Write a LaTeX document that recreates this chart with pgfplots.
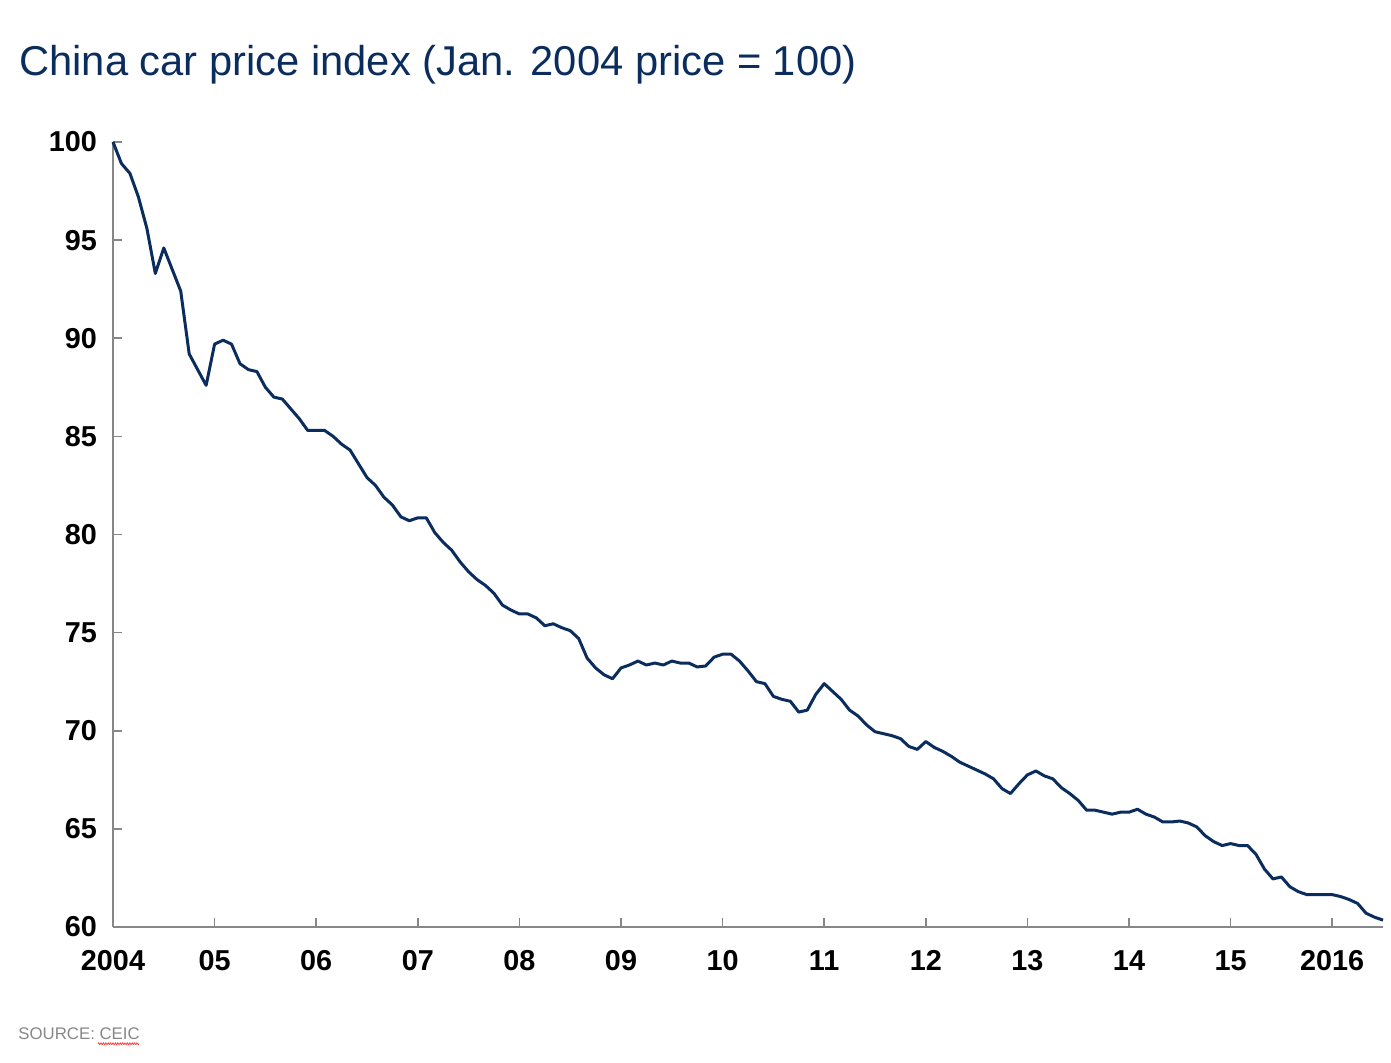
\documentclass[border=0pt]{standalone}
\usepackage{pgfplots}
\pgfplotsset{compat=1.18}
\usepackage{pgfplotstable}
\usepackage{fontspec}
\setmainfont{Liberation Sans}
\usetikzlibrary{decorations.pathmorphing}
\definecolor{navy}{HTML}{0B2D5E}
\definecolor{axgray}{HTML}{878787}
\pgfplotstableread{
m v
0 100
1 98.9
2 98.4
3 97.2
4 95.6
5 93.3
6 94.6
7 93.5
8 92.4
9 89.2
10 88.4
11 87.6
12 89.7
13 89.9
14 89.7
15 88.7
16 88.4
17 88.3
18 87.5
19 87.0
20 86.9
21 86.4
22 85.9
23 85.3
24 85.3
25 85.3
26 85.0
27 84.6
28 84.3
29 83.6
30 82.9
31 82.5
32 81.9
33 81.5
34 80.9
35 80.7
36 80.85
37 80.85
38 80.1
39 79.6
40 79.2
41 78.6
42 78.1
43 77.7
44 77.4
45 77.0
46 76.4
47 76.15
48 75.95
49 75.95
50 75.75
51 75.35
52 75.45
53 75.25
54 75.1
55 74.7
56 73.7
57 73.2
58 72.85
59 72.65
60 73.2
61 73.35
62 73.55
63 73.35
64 73.45
65 73.35
66 73.55
67 73.45
68 73.45
69 73.25
70 73.3
71 73.75
72 73.9
73 73.9
74 73.55
75 73.05
76 72.5
77 72.4
78 71.75
79 71.6
80 71.5
81 70.95
82 71.05
83 71.85
84 72.4
85 72.0
86 71.6
87 71.05
88 70.75
89 70.3
90 69.95
91 69.85
92 69.75
93 69.6
94 69.2
95 69.05
96 69.45
97 69.15
98 68.95
99 68.7
100 68.4
101 68.2
102 68.0
103 67.8
104 67.55
105 67.05
106 66.8
107 67.3
108 67.75
109 67.95
110 67.7
111 67.55
112 67.1
113 66.8
114 66.45
115 65.95
116 65.95
117 65.85
118 65.75
119 65.85
120 65.85
121 66.0
122 65.75
123 65.6
124 65.35
125 65.35
126 65.4
127 65.3
128 65.1
129 64.65
130 64.35
131 64.15
132 64.25
133 64.15
134 64.15
135 63.7
136 62.95
137 62.45
138 62.55
139 62.05
140 61.8
141 61.65
142 61.65
143 61.65
144 61.65
145 61.55
146 61.4
147 61.2
148 60.7
149 60.5
150 60.35
}\cpi
\begin{document}
\begin{tikzpicture}
\useasboundingbox (0,0) rectangle (695.5pt,531.5pt);
\node[anchor=base west, text=navy, font=\fontsize{20.85}{25}\selectfont, inner sep=0pt] at (9.5pt,493.5pt) {China car price index (Jan. 2004 price = 100)};
\node[anchor=base west, text=axgray, font=\fontsize{8.4}{10}\selectfont, inner sep=0pt] (src) at (9pt,11.5pt) {SOURCE: CEIC};
\draw[red!80, line width=0.35pt, decorate, decoration={zigzag, segment length=1.2pt, amplitude=0.5pt}] (49pt,9.6pt) -- (69.5pt,9.6pt);
\begin{axis}[
  at={(56.5pt,68pt)}, anchor=south west,
  scale only axis, width=635pt, height=392.5pt,
  xmin=0, xmax=150, ymin=60, ymax=100,
  axis x line=bottom, axis y line=left,
  axis line style={-, axgray, line width=0.7pt},
  tick style={axgray, line width=0.8pt},
  tick align=inside, major tick length=4.5pt,
  xtick={0,12,...,144},
  xticklabels={2004,05,06,07,08,09,10,11,12,13,14,15,2016},
  ytick={60,65,...,100},
  /pgf/number format/assume math mode=true,
  ticklabel style={font=\fontsize{14.4}{16}\selectfont\bfseries, text=black},
  xticklabel style={anchor=north, inner sep=0pt, text height=10.3pt, text depth=0pt, yshift=-11.5pt},
  yticklabel style={anchor=east, inner sep=0pt, xshift=-7.9pt},
  clip=false,
]
\addplot[navy, line width=1.5pt, line join=round] table[x=m, y=v] {\cpi};
\end{axis}
\end{tikzpicture}
\end{document}
